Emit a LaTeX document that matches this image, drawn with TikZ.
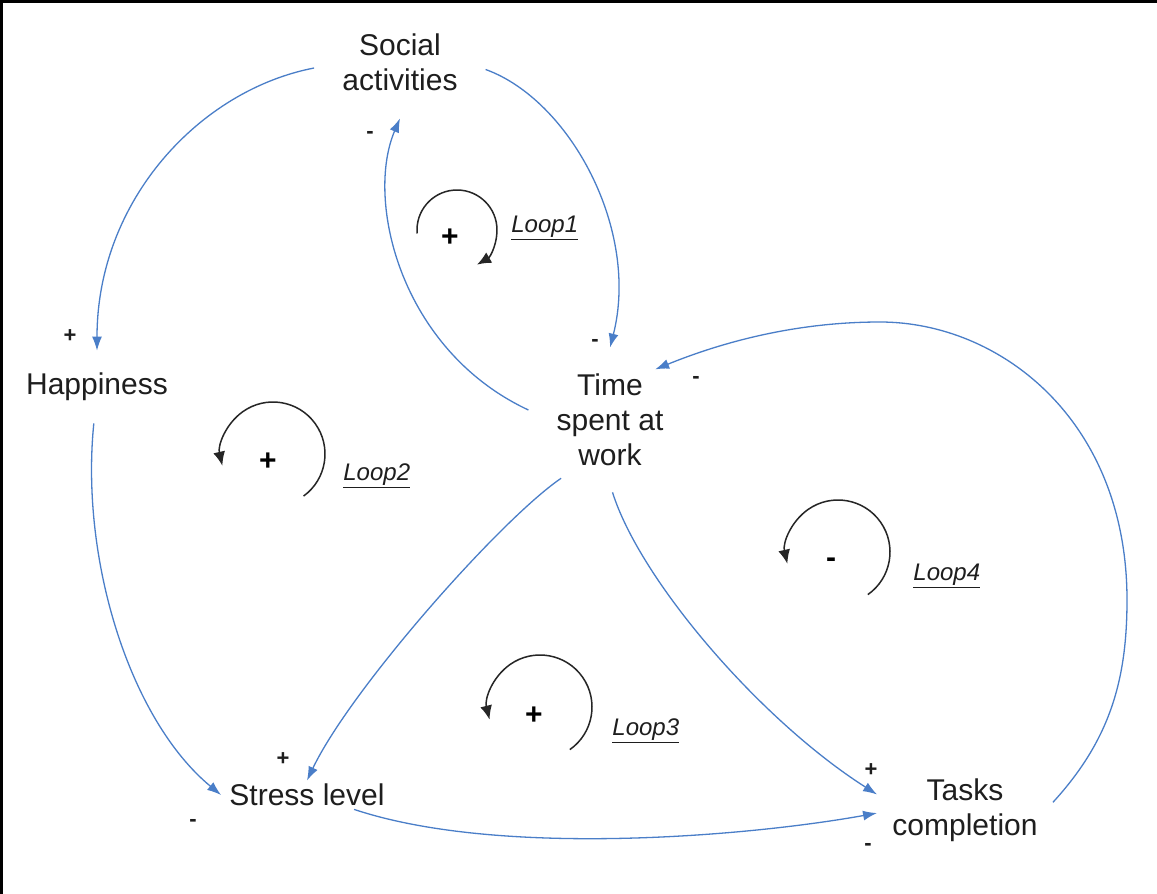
\documentclass[tikz,border=0pt]{standalone}
\usepackage{fontspec}
\setmainfont{Liberation Sans}
\usetikzlibrary{arrows.meta,shapes.geometric}
\definecolor{cldblue}{RGB}{74,126,200}
\definecolor{txtgray}{RGB}{30,30,30}
\begin{document}
\begin{tikzpicture}[x=0.5pt,y=-0.5pt,
  var/.style={font=\fontsize{15}{17.5}\selectfont, align=center, text=txtgray},
  evar/.style={var, ellipse, inner sep=0pt},
  link/.style={draw=cldblue, line width=0.65pt, -{Latex[length=7pt,width=5pt]}},
  pol/.style={font=\fontsize{11}{11}\selectfont\bfseries, text=txtgray, inner sep=0pt},
  loopar/.style={draw=black!85, line width=0.75pt, -{Latex[length=7pt,width=6pt]}},
  looplab/.style={font=\fontsize{12}{12}\selectfont\itshape, text=txtgray, inner sep=0pt, anchor=base west},
  lsign/.style={font=\fontsize{15}{15}\selectfont\bfseries, text=black, inner sep=0pt}
]
\useasboundingbox (0,0) rectangle (1157,894);
\fill[white] (0,0) rectangle (1157,894);
\draw[line width=1.5pt] (1.5,894) -- (1.5,1.5) -- (1157,1.5);

% variables
\node[evar, minimum width=86pt, minimum height=56pt] (soc) at (400,62) {Social\\activities};
\node[evar, minimum height=36pt] (hap) at (97,387) {Happiness};
\node[evar, minimum width=82pt, minimum height=72pt] (time) at (610,420) {Time\\spent at\\work};
\node[var, inner xsep=4pt, inner ysep=1.5pt] (str) at (307,795) {Stress level};
\node[var, inner xsep=7.5pt, inner ysep=2pt] (task) at (965,810) {Tasks\\completion};

% links
\draw[link] (soc.184) .. controls (200,90) and (97,200) .. (hap.90);
\draw[link] (soc.-5) .. controls (570,100) and (640,230) .. (time.90);
\draw[link] (time.173) .. controls (400,350) and (365,200) .. (soc.-90);
\draw[link, shorten >=-5pt] (task.5) .. controls (1110,740) and (1127,680) .. (1127,600)
   .. controls (1127,420) and (1000,322) .. (880,322)
   .. controls (790,322) and (715,345) .. (time.45);
\draw[link] (time.230) .. controls (500,520) and (350,690) .. (str.north);
\draw[link] (time.-88) .. controls (640,580) and (760,720) .. (task.170);
\draw[link] (hap.-95) .. controls (80,560) and (130,720) .. (str.west);
\draw[link] (str.-17) .. controls (500,858) and (750,836) .. (task.182);

% polarities
\node[pol] (p1) at (370,135) {-};
\node[pol] (p2) at (70,336) {+};
\node[pol] (p3) at (595,343) {-};
\node[pol] (p4) at (696,380) {-};
\node[pol] (p5) at (283,759) {+};
\node[pol] (p6) at (193,823) {-};
\node[pol] (p7) at (871,770) {+};
\node[pol] (p8) at (868,847) {-};

% loops
\coordinate (L1c) at (457,230);
\coordinate (L2c) at (273,454);
\coordinate (L3c) at (540,707);
\coordinate (L4c) at (838,552);
\draw[loopar] ([shift={(185:20pt)}]L1c) arc[start angle=185, end angle=-60, radius=20pt];
\draw[loopar] ([shift={(-54:26pt)}]L2c) arc[start angle=-54, end angle=193, radius=26pt];
\draw[loopar] ([shift={(-55:26pt)}]L3c) arc[start angle=-55, end angle=194, radius=26pt];
\draw[loopar] ([shift={(-55:26pt)}]L4c) arc[start angle=-55, end angle=193, radius=26pt];
\node[lsign] (s1) at (450,238) {+};
\node[lsign] (s2) at (268,462) {+};
\node[lsign] (s3) at (534,716) {+};
\node[lsign] (s4) at (831,563) {-};
\node[looplab] (l1) at (511,232) {\underline{Loop1}};
\node[looplab] (l2) at (343,480) {\underline{Loop2}};
\node[looplab] (l3) at (612,735) {\underline{Loop3}};
\node[looplab] (l4) at (913,580) {\underline{Loop4}};
\end{tikzpicture}
\end{document}
